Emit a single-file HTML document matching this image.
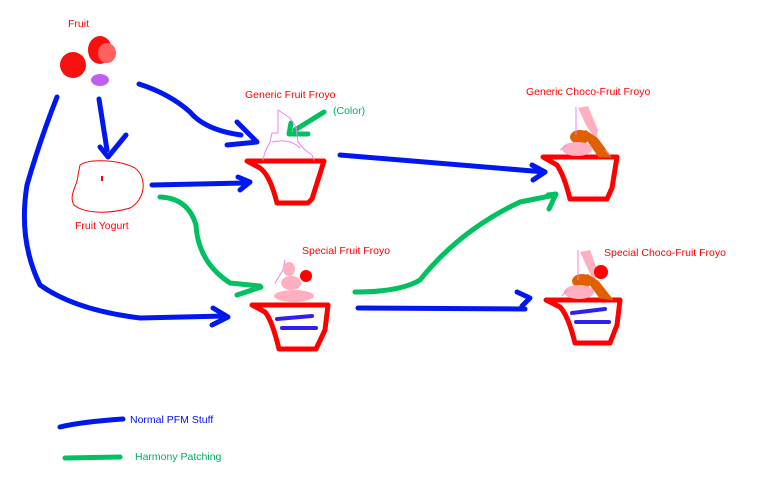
<!DOCTYPE html>
<html><head><meta charset="utf-8"><style>
html,body{margin:0;padding:0;background:#fff;}
svg{display:block;}
text{font-family:"Liberation Sans",sans-serif;font-size:10.5px;}
</style></head><body>
<svg width="763" height="480" viewBox="0 0 763 480" xmlns="http://www.w3.org/2000/svg">
<rect width="763" height="480" fill="#fff"/>
<text x="68" y="27" fill="#f00">Fruit</text>
<text x="245" y="98" fill="#f00">Generic Fruit Froyo</text>
<text x="333" y="114" fill="#00b060">(Color)</text>
<text x="75" y="229" fill="#f00">Fruit Yogurt</text>
<text x="302" y="254" fill="#f00">Special Fruit Froyo</text>
<text x="526" y="95" fill="#f00">Generic Choco-Fruit Froyo</text>
<text x="604" y="256" fill="#f00">Special Choco-Fruit Froyo</text>
<text x="130" y="423" fill="#0010f0">Normal PFM Stuff</text>
<text x="135" y="460" fill="#00b060">Harmony Patching</text>

<circle cx="73" cy="65" r="13" fill="#f81010"/>
<ellipse cx="100" cy="50" rx="12" ry="14" fill="#f81010"/>
<ellipse cx="107" cy="53" rx="9" ry="10" fill="#ff6060"/>
<ellipse cx="100" cy="80" rx="9" ry="6" fill="#c060f0"/>

<path d="M80,165 C90,158 120,160 135,168 C148,178 145,200 130,208 C110,214 85,214 74,205 C68,195 78,185 78,175 Z" fill="none" stroke="#f00" stroke-width="1"/>
<rect x="101" y="176" width="2" height="5" fill="#f00"/>

<g fill="none" stroke-linecap="round" stroke-linejoin="round">
<g stroke="#0018f0" stroke-width="5">
<path d="M139,84 Q170,94 190,112 Q205,130 241,135"/>
<path d="M237,122 L257,142 L227,145"/>
<path d="M99,99 L107,150"/>
<path d="M100,147 L108,157 L126,135"/>
<path d="M57,97 Q40,140 27,185 Q18,240 40,285 Q75,310 140,318 L225,316"/>
<path d="M213,308 L228,317 L212,325"/>
<path d="M152,185 L245,183"/>
<path d="M238,177 L250,182 L240,190"/>
<path d="M340,155 Q420,162 545,172"/>
<path d="M532,165 L545,172 L533,180"/>
<path d="M358,308 L525,309"/>
<path d="M517,292 L530,298 L522,306"/>
<path d="M60,427 Q80,422 123,419"/>
</g>
<g stroke="#00c060" stroke-width="5">
<path d="M324,112 L295,130"/>
<path d="M291,123 L289,134 L308,134"/>
<path d="M160,197 Q188,198 196,225 Q198,262 230,283 L260,286"/>
<path d="M237,295 L261,287"/>
<path d="M355,292 Q400,292 420,280 Q460,230 520,202 L555,195"/>
<path d="M548,195 L556,194 L549,209"/>
<path d="M65,458 L120,457"/>
</g>
<g stroke="#f00" stroke-width="5">
<path d="M247,161 L324,161 L312,199 L308,203 L277,203 Q270,175 260,168 Z"/>
<path d="M252,305 L328,305 L325,330 L316,349 L279,349 Q272,320 265,312 Z"/>
<path d="M543,157 L617,157 L612,188 L607,199 L570,199 Q564,175 557,165 Z"/>
<path d="M546,300 L620,300 L617,325 L610,343 L575,343 Q568,315 560,307 Z"/>
</g>
<g stroke="#3020f0" stroke-width="4">
<path d="M277,319 L312,316"/><path d="M282,328 L316,328"/>
<path d="M572,313 L605,309"/><path d="M576,322 L609,322"/>
</g>
<g stroke="#f080f0" stroke-width="1">
<path d="M278,110 L278,133 L272,133 L270,142 L265,152 L263,160"/>
<path d="M278,110 L290,118 L296,127 L298,142 L305,150 L312,155 L314,160"/>
<path d="M272,142 Q290,138 300,148"/>
</g>
<path d="M285,260 L283,270 L275,283" stroke="#f080f0" stroke-width="1"/>
</g>
<ellipse cx="289" cy="269" rx="6" ry="7" fill="#ffb0c0"/>
<ellipse cx="291" cy="283" rx="10" ry="7" fill="#ffb0c0"/>
<ellipse cx="294" cy="296" rx="20" ry="6" fill="#ffb0c0"/>
<circle cx="306" cy="276" r="6" fill="#f00"/>
<g>
<path d="M578,108 L588,106 L598,130 L596,140 L586,125 Z" fill="#ffb0c0"/>
<ellipse cx="580" cy="137" rx="10" ry="7" fill="#e06000"/>
<path d="M584,132 L600,155 L607,155 L596,140 Z" fill="#e06000" stroke="#e06000" stroke-width="5"/>
<ellipse cx="577" cy="149" rx="15" ry="7" fill="#ffb0c0"/>
<path d="M576,107 L576,135 M560,150 L567,145 M605,150 L610,155" stroke="#f080f0" stroke-width="1" fill="none"/>
</g>
<g>
<path d="M580,252 L590,250 L598,272 L594,282 L586,265 Z" fill="#ffb0c0"/>
<ellipse cx="582" cy="281" rx="10" ry="7" fill="#e06000"/>
<path d="M586,276 L601,296 L608,297 L597,283 Z" fill="#e06000" stroke="#e06000" stroke-width="5"/>
<ellipse cx="579" cy="292" rx="15" ry="7" fill="#ffb0c0"/>
<circle cx="601" cy="272" r="7" fill="#f00"/>
<path d="M578,250 L578,280 M562,296 L567,290" stroke="#f080f0" stroke-width="1" fill="none"/>
</g>
</svg>
</body></html>
